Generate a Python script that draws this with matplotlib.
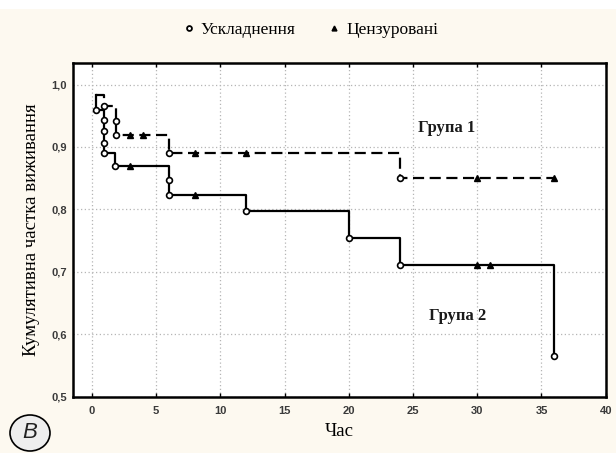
import numpy as np
import matplotlib.pyplot as plt
from matplotlib.lines import Line2D
from matplotlib.patches import Ellipse, Rectangle

# Data
start_t = 0.3
start_s = 0.983

# Група 1 (dashed)
g1_event_t = [0.9, 1.9, 1.9, 6, 24]
g1_event_s = [0.966, 0.941, 0.919, 0.890, 0.850]
g1_cens_t = [3, 4, 8, 12, 30, 36]
g1_cens_s = [0.919, 0.919, 0.890, 0.890, 0.850, 0.850]

# Група 2 (solid)
g2_event_t = [0.3, 0.9, 0.9, 0.9, 0.9, 1.8, 6, 6, 12, 20, 24, 36]
g2_event_s = [0.960, 0.943, 0.926, 0.907, 0.890, 0.869, 0.847, 0.823, 0.797, 0.754, 0.711, 0.565]
g2_cens_t = [3, 8, 30, 31]
g2_cens_s = [0.869, 0.823, 0.711, 0.711]

x_ticks = [0, 5, 10, 15, 20, 25, 30, 35, 40]
y_ticks = [0.5, 0.6, 0.7, 0.8, 0.9, 1.0]

serif = 'Liberation Serif'
sans = 'Liberation Sans'

fig = plt.figure(figsize=(6.16, 4.53), dpi=100, facecolor='#fdf9f0')
fig.add_artist(Rectangle((0, 1 - 9 / 453), 1, 9 / 453, transform=fig.transFigure,
                         facecolor='white', edgecolor='none', zorder=0))
ax = fig.add_axes([72.7 / 616, 1 - 396.7 / 453, (605.7 - 72.7) / 616, (396.7 - 63.3) / 453])
ax.set_facecolor('white')


def km_steps(t_ev, s_ev, end_t=None, end_s=None):
    xs = [start_t] + list(t_ev)
    ys = [start_s] + list(s_ev)
    if end_t is not None:
        xs.append(end_t)
        ys.append(end_s)
    return np.array(xs), np.array(ys)


x1, y1 = km_steps(g1_event_t, g1_event_s, max(g1_cens_t), g1_cens_s[-1])
x2, y2 = km_steps(g2_event_t, g2_event_s)

ax.step(x2, y2, where='post', color='black', lw=1.6, zorder=3)
ax.step(x1, y1, where='post', color='black', lw=1.6, dashes=(5, 2.5), zorder=3)

circ = dict(marker='o', ms=4.2, mfc='white', mec='black', mew=1.2, ls='none', zorder=5)
tri = dict(marker='^', ms=4, color='black', ls='none', zorder=5)
ax.plot(g2_event_t, g2_event_s, **circ)
ax.plot(g1_event_t, g1_event_s, **circ)
ax.plot(g2_cens_t, g2_cens_s, **tri)
ax.plot(g1_cens_t, g1_cens_s, **tri)

ax.text(27.6, 0.930, 'Група 1', family=serif, fontsize=12, fontweight='bold',
        ha='center', va='center', color='#1a1a1a')
ax.text(28.5, 0.629, 'Група 2', family=serif, fontsize=12, fontweight='bold',
        ha='center', va='center', color='#1a1a1a')

ax.set_xlim(-1.5, 40)
ax.set_ylim(0.5, 1.034)
ax.set_xticks(x_ticks)
ax.set_yticks(y_ticks)
ax.set_yticklabels([f'{v:.1f}'.replace('.', ',') for v in y_ticks])
ax.grid(True, color='#b5b5b5', lw=0.9, ls=(0, (1, 2)))
ax.tick_params(axis='both', length=0, labelsize=8, labelcolor='#3a3a3a', pad=4)
ax.tick_params(axis='x', top=True, direction='in', length=3, width=1, pad=7)
for lab in ax.get_xticklabels() + ax.get_yticklabels():
    lab.set_family(sans)
    lab.set_fontweight('bold')
for sp in ax.spines.values():
    sp.set_linewidth(1.8)

ax.set_xlabel('Час', family=serif, fontsize=13.5, labelpad=5)
ax.set_ylabel('Кумулятивна частка виживання', family=serif, fontsize=13.5, labelpad=8)

handles = [Line2D([], [], marker='o', ms=3.5, mfc='white', mec='black', mew=1.3, ls='none'),
           Line2D([], [], marker='^', ms=3.5, color='black', ls='none')]
fig.legend(handles, ['Ускладнення', 'Цензуровані'], loc='center', ncol=2,
           bbox_to_anchor=(310 / 616, 1 - 30 / 453), frameon=False,
           prop={'family': serif, 'size': 12.5}, handlelength=0.8, handletextpad=0.3,
           columnspacing=1.8)

fig.add_artist(Ellipse((30 / 616, 1 - 433 / 453), 40 / 616, 36 / 453, transform=fig.transFigure,
                       facecolor='#eeeeee', edgecolor='black', lw=1.2))
fig.text(30 / 616, 1 - 433 / 453, 'В', family=sans, style='italic', fontsize=16,
         ha='center', va='center', color='#222222')

fig.savefig('out.png', dpi=100, facecolor=fig.get_facecolor())
